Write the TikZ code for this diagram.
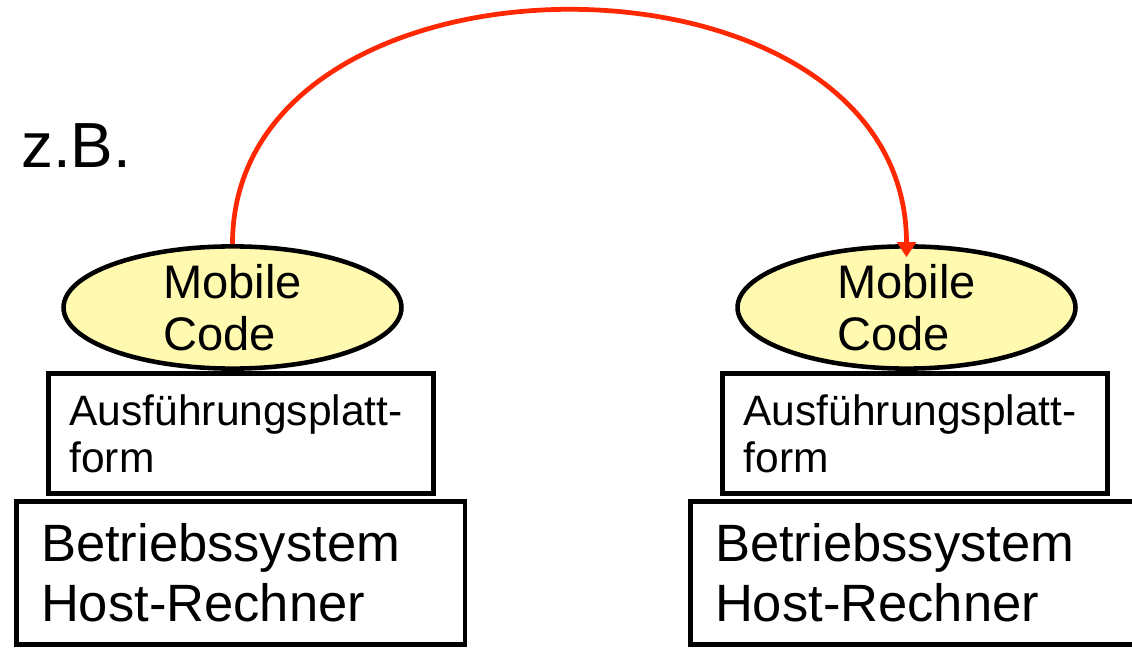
\documentclass[tikz,border=0pt]{standalone}
\usepackage{fontspec}
\setmainfont{Liberation Sans}
\usepackage{xcolor}
\usetikzlibrary{shapes.geometric}
\usetikzlibrary{arrows.meta}
\definecolor{codeyellow}{RGB}{255,250,175}
\definecolor{arcred}{RGB}{255,40,0}

\begin{document}
\begin{tikzpicture}[x=0.02cm,y=-0.02cm,
  code/.style={ellipse,draw,line width=2.6pt,fill=codeyellow,minimum width=6.76cm,minimum height=2.44cm,inner sep=0pt,align=left,font=\fontsize{26.8}{29.5}\selectfont},
  platform/.style={rectangle,draw,line width=2.6pt,minimum width=7.7cm,minimum height=2.4cm,inner xsep=0.42cm,text width=6.86cm,align=left,font=\fontsize{24.2}{26.6}\selectfont},
  host/.style={rectangle,draw,line width=2.6pt,minimum width=8.97cm,minimum height=2.87cm,inner xsep=0.49cm,text width=7.99cm,align=left,font=\fontsize{29.9}{34}\selectfont},
  hop/.style={arcred,line width=2.7pt,-{Triangle[length=8.5pt,width=10.5pt]}}]
  \useasboundingbox (0,0) rectangle (1132,648);

  \node[anchor=base west,inner sep=0pt,font=\fontsize{36.3}{40}\selectfont] (zb) at (21,168) {z.B.};

  % two hosts, side by side
  \foreach \x/\s in {0/l,674/r}{
    \node[code] (code\s) at (232.5+\x,307.5) {Mobile\\Code};
    \node[platform] (platf\s) at (241+\x,433.5) {Ausführungsplatt-\\form};
    \node[host] (host\s) at (240.75+\x,573) {Betriebssystem\\Host-Rechner};
  }

  \draw[hop,shorten >=-7.4pt] (codel.north) .. controls (232.5,-68.8) and (906.5,-68.8) .. (coder.north);
\end{tikzpicture}
\end{document}
